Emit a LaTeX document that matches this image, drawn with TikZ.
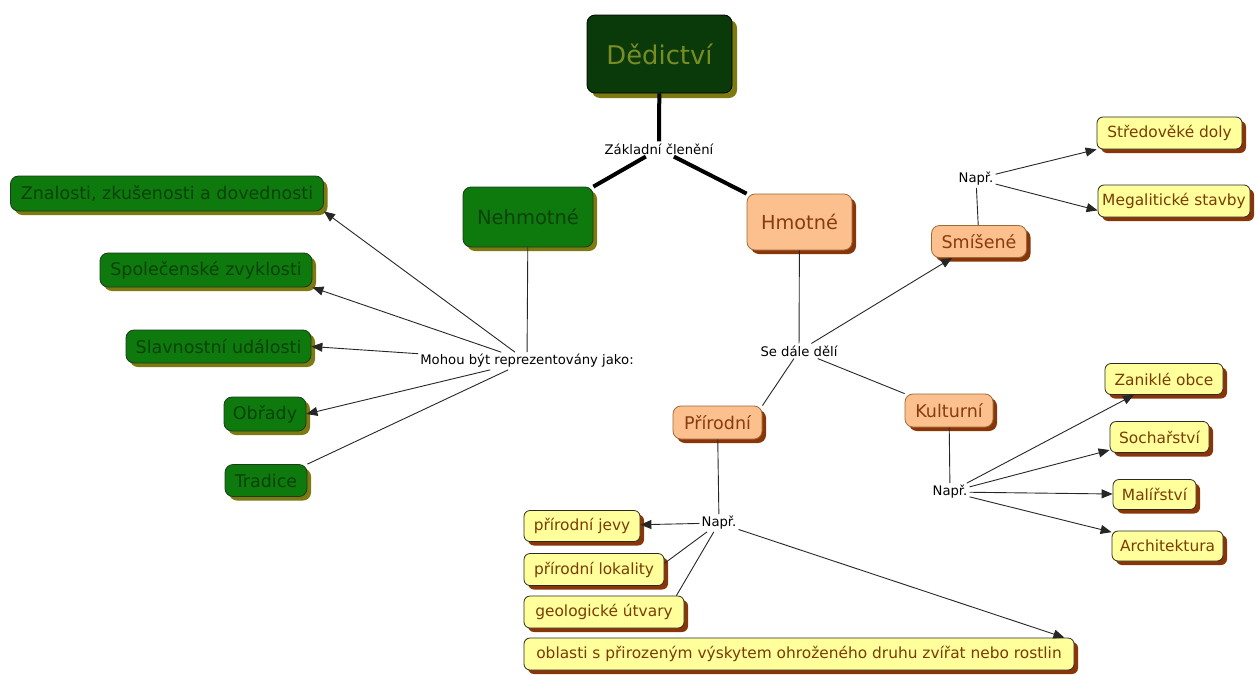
\documentclass[tikz,border=0pt]{standalone}
\usepackage{fontspec}
\setmainfont{DejaVu Sans}
\usetikzlibrary{arrows.meta,shadows,calc}
\definecolor{rootfill}{HTML}{0A3A0A}
\definecolor{roottext}{HTML}{7A8C24}
\definecolor{grnfill}{HTML}{0E7A0E}
\definecolor{grntext}{HTML}{0A420A}
\definecolor{grnborder}{HTML}{1C3A1C}
\definecolor{olivesh}{HTML}{7E7A12}
\definecolor{orgfill}{HTML}{FBC08E}
\definecolor{orgborder}{HTML}{9A6A3A}
\definecolor{orgtext}{HTML}{8A3A10}
\definecolor{brownsh}{HTML}{8A3508}
\definecolor{ylwfill}{HTML}{FFFF9C}
\definecolor{ylwtext}{HTML}{7A3C04}
\definecolor{ylwborder}{HTML}{2A2A2A}
\begin{document}
\begin{tikzpicture}[x=1pt,y=-1pt,
  box/.style={rounded corners=8pt, draw, line width=0.8pt, inner sep=0pt, align=center},
  rootbox/.style={box, fill=rootfill, text=roottext, draw=black, font=\fontsize{25.8}{30}\selectfont,
     drop shadow={shadow xshift=5pt,shadow yshift=-5pt,fill=olivesh,opacity=1}},
  grnbox/.style={box, fill=grnfill, text=grntext, draw=grnborder, font=\fontsize{17.5}{20}\selectfont,
     drop shadow={shadow xshift=4pt,shadow yshift=-4pt,fill=olivesh,opacity=1}},
  orgbox/.style={box, fill=orgfill, text=orgtext, draw=orgborder, font=\fontsize{17.5}{20}\selectfont,
     drop shadow={shadow xshift=4pt,shadow yshift=-4pt,fill=brownsh,opacity=1}},
  ylwbox/.style={box, rounded corners=6pt, fill=ylwfill, text=ylwtext, draw=ylwborder, font=\fontsize{15.4}{18}\selectfont,
     drop shadow={shadow xshift=4pt,shadow yshift=-4pt,fill=brownsh,opacity=1}},
  lbl/.style={font=\fontsize{13.2}{15}\selectfont, inner sep=2pt, text=black},
  conn/.style={draw=black!85, line width=0.9pt},
  arr/.style={conn, -{Triangle[length=11pt,width=9pt]}},
  heavy/.style={draw=black, line width=4pt}
]
\useasboundingbox (0,0) rectangle (1257,675);

% main nodes
\node[rootbox, minimum width=145pt, minimum height=78pt] (dedi) at (659.5,54) {Dědictví};
\node[lbl] (zakl) at (659,149) {Základní členění};
\node[grnbox, minimum width=130pt, minimum height=60pt, font=\fontsize{19.5}{22}\selectfont] (nehm) at (528,217) {Nehmotné};
\node[orgbox, minimum width=105pt, minimum height=56pt, font=\fontsize{19.3}{22}\selectfont] (hmot) at (799.5,222) {Hmotné};

% intangible
\node[lbl] (mohou) at (527,361) {Mohou být reprezentovány jako:};
\node[grnbox, minimum width=313pt, minimum height=35pt] (znal) at (167,193.5) {Znalosti, zkušenosti a dovednosti};
\node[grnbox, minimum width=212pt, minimum height=34pt] (spol) at (206,270) {Společenské zvyklosti};
\node[grnbox, minimum width=185pt, minimum height=33pt] (slav) at (218.5,346.5) {Slavnostní události};
\node[grnbox, minimum width=82pt, minimum height=34pt] (obr) at (265,414) {Obřady};
\node[grnbox, minimum width=82pt, minimum height=32pt] (trad) at (266,480.5) {Tradice};

% tangible
\node[lbl] (sedale) at (799,351) {Se dále dělí};
\node[orgbox, minimum width=95pt, minimum height=32pt] (smis) at (979,241.5) {Smíšené};
\node[orgbox, minimum width=89pt, minimum height=33pt] (prir) at (717.5,422.5) {Přírodní};
\node[orgbox, minimum width=88pt, minimum height=33pt] (kult) at (949,410.5) {Kulturní};

\node[lbl] (napra) at (976,179) {Např.};
\node[ylwbox, minimum width=145pt, minimum height=32pt] (sted) at (1169.5,133) {Středověké doly};
\node[ylwbox, minimum width=152pt, minimum height=32pt] (mega) at (1174,201) {Megalitické stavby};

\node[lbl] (naprb) at (950,492) {Např.};
\node[ylwbox, minimum width=118pt, minimum height=31pt] (zan) at (1164,379) {Zaniklé obce};
\node[ylwbox, minimum width=99pt, minimum height=31pt] (soch) at (1159.5,437) {Sochařství};
\node[ylwbox, minimum width=83pt, minimum height=30pt] (mal) at (1154.5,494.5) {Malířství};
\node[ylwbox, minimum width=111pt, minimum height=30pt] (arch) at (1167.5,546) {Architektura};

\node[lbl] (naprc) at (719,523) {Např.};
\node[ylwbox, minimum width=116pt, minimum height=31pt] (jevy) at (582,526) {přírodní jevy};
\node[ylwbox, minimum width=140pt, minimum height=32pt] (lok) at (594,569.5) {přírodní lokality};
\node[ylwbox, minimum width=160pt, minimum height=32pt] (geo) at (604,612) {geologické útvary};
\node[ylwbox, minimum width=550pt, minimum height=32pt] (obl) at (799,654) {oblasti s přirozeným výskytem ohroženého druhu zvířat nebo rostlin};

% connectors
\draw[heavy] (dedi) -- (zakl);
\draw[heavy] (zakl) -- (nehm.north east);
\draw[heavy] (zakl) -- (hmot.north west);

\draw[conn] (nehm) -- (mohou);
\draw[arr] (mohou) -- (znal.south east);
\draw[arr] (mohou) -- (spol.south east);
\draw[arr] (mohou) -- (slav.east);
\draw[arr] (mohou) -- (obr.east);
\draw[conn] (mohou) -- (trad.north east);

\draw[conn] (hmot) -- (sedale);
\draw[arr] (sedale) -- (smis);
\draw[conn] (sedale) -- (prir.north east);
\draw[conn] (sedale) -- (kult.north west);

\draw[conn] (smis) -- (napra);
\draw[arr] (napra) -- (sted.south west);
\draw[arr] (napra) -- (mega.187);

\draw[conn] (kult) -- (naprb);
\draw[arr] (naprb) -- (zan);
\draw[arr] (naprb) -- (soch);
\draw[arr] (naprb) -- (mal);
\draw[arr] (naprb) -- (arch);

\draw[conn] (prir) -- (naprc);
\draw[arr] (naprc) -- (jevy);
\draw[conn] (naprc) -- (lok.5);
\draw[conn] (naprc) -- ($(geo.north east)+(-8,0)$);
\draw[arr] (naprc) -- ($(obl.north east)+(-10,0)$);
\end{tikzpicture}
\end{document}
